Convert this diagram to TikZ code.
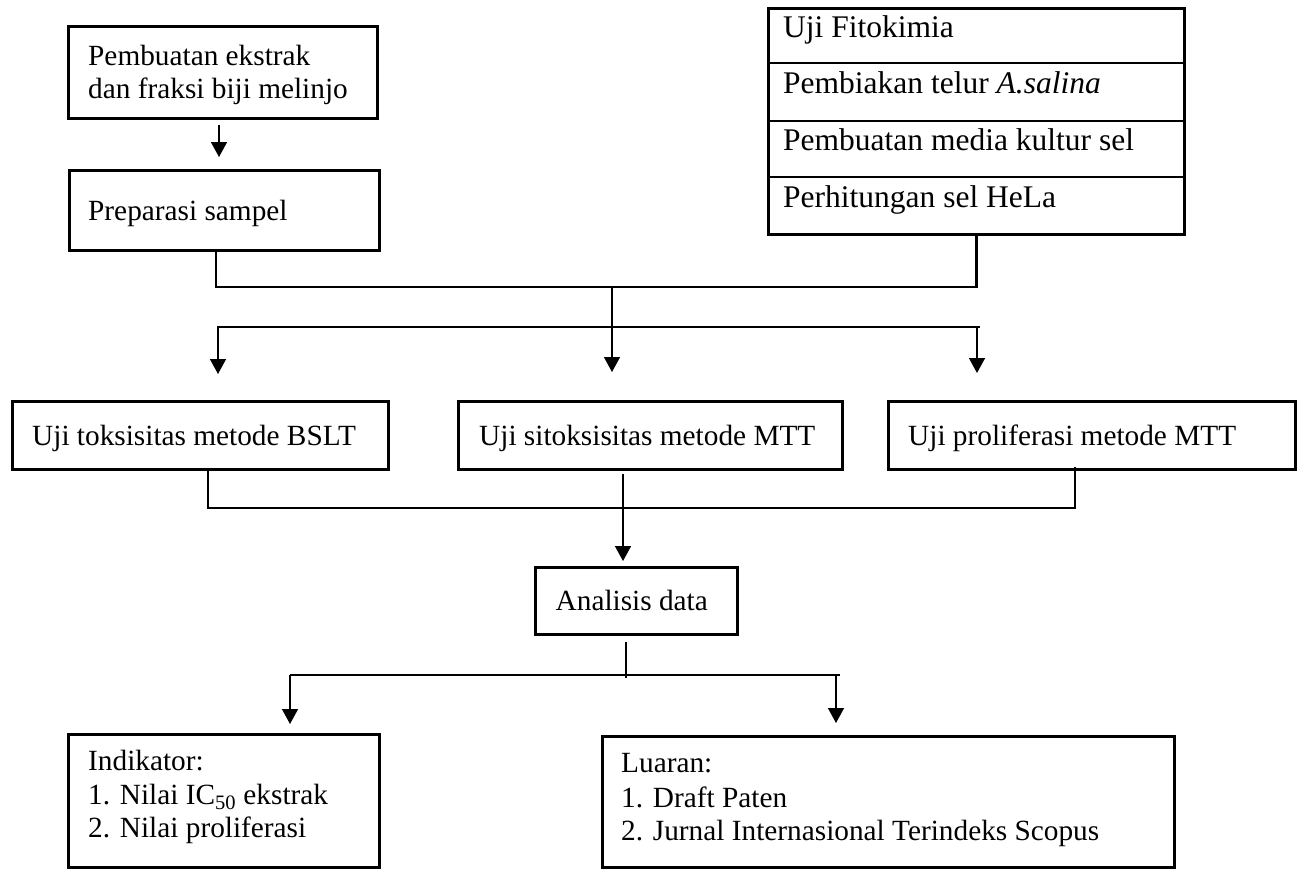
\documentclass[tikz,border=0pt]{standalone}
\usepackage{fontspec}
\setmainfont{Liberation Serif}
\usetikzlibrary{arrows.meta}
\begin{document}
\begin{tikzpicture}[x=1pt,y=-1pt,
  box/.style={draw=black,line width=2.6pt,inner sep=0pt,anchor=north west},
  txt/.style={anchor=base west,inner sep=0pt,font=\fontsize{29.3}{33.5}\selectfont},
  stxt/.style={anchor=base west,inner sep=0pt,font=\fontsize{31.5}{35}\selectfont},
  conn/.style={line width=2.8pt,line cap=rect},
  thin/.style={line width=1.5pt},
  arr/.style={line width=1.5pt,-{Triangle[width=16pt,length=15pt]}}]
\useasboundingbox[fill=white] (0,0) rectangle (1303,868);
% boxes
\node[box,minimum width=309pt,minimum height=92pt] (b1) at (67,25) {};
\node[box,minimum width=310pt,minimum height=80pt] (b2) at (68,169) {};
\node[box,minimum width=416pt,minimum height=226pt] (stack) at (767,7) {};
\node[box,minimum width=376pt,minimum height=68pt] (t1) at (11,400) {};
\node[box,minimum width=384pt,minimum height=68pt] (t2) at (457,400) {};
\node[box,minimum width=407pt,minimum height=68pt] (t3) at (887,400) {};
\node[box,minimum width=202pt,minimum height=67pt] (an) at (534,566) {};
\node[box,minimum width=311pt,minimum height=133pt] (ind) at (67,733) {};
\node[box,minimum width=572pt,minimum height=131pt] (lu) at (601,735) {};
% stack dividers
\draw[line width=2.6pt] (stack.west |- 0,63) -- (stack.east |- 0,63);
\draw[line width=2.6pt] (stack.west |- 0,121) -- (stack.east |- 0,121);
\draw[line width=2.6pt] (stack.west |- 0,177) -- (stack.east |- 0,177);
% texts
\node[txt] (tb1a) at (88,65) {Pembuatan ekstrak};
\node[txt] (tb1b) at (88,98) {dan fraksi biji melinjo};
\node[txt] (tb2) at (88,220) {Preparasi sampel};
\node[stxt] (ts1) at (783,37) {Uji Fitokimia};
\node[stxt] (ts2) at (783,93) {Pembiakan telur \textit{A.salina}};
\node[stxt] (ts3) at (783,150) {Pembuatan media kultur sel};
\node[stxt] (ts4) at (783,207) {Perhitungan sel HeLa};
\node[txt] (tt1) at (32,445) {Uji toksisitas metode BSLT};
\node[txt] (tt2) at (479,445) {Uji sitoksisitas metode MTT};
\node[txt] (tt3) at (908,445) {Uji proliferasi metode MTT};
\node[txt] (tan) at (555.5,610) {Analisis data};
\node[txt] (ti1) at (88,770) {Indikator:};
\node[txt] (ti2) at (88,804) {1. Nilai IC\textsubscript{50} ekstrak};
\node[txt] (ti3) at (88,837) {2. Nilai proliferasi};
\node[txt] (tl1) at (621,772) {Luaran:};
\node[txt] (tl2) at (621,807) {1. Draft Paten};
\node[txt] (tl3) at (621,840) {2. Jurnal Internasional Terindeks Scopus};
% junction coordinates
\coordinate (j1) at (216,287);
\coordinate (j2) at (612,287);
\coordinate (j3) at (612,329);
\coordinate (h2l) at (218,327);
\coordinate (h2r) at (979,327);
\coordinate (j4) at (208,508);
\coordinate (j5) at (623,508);
\coordinate (j6) at (1075,508);
\coordinate (j7) at (626,675);
\coordinate (h3l) at (290,675);
\coordinate (h3r) at (840,675);
% connectors
\draw[arr,shorten <=5pt,shorten >=12pt] (b1.south -| 219,0) -- (b2.north -| 219,0);
\draw[conn] (b2.south -| j1) -- (j1) -- (j1 -| stack.south) -- (stack.south);
\draw[conn] (j2) -- (j3);
\draw[conn] (h2l) -- (h2r);
\draw[arr,shorten >=26pt] (h2l) -- (t1.north -| h2l);
\draw[arr,shorten >=28pt] (612,327) -- (t2.north -| j3);
\draw[arr,shorten >=27pt] (977,327) -- (t3.north -| 977,0);
\draw[conn] (t1.south -| j4) -- (j4) -- (j6) -- ([yshift=2pt]t3.south -| j6);
\draw[conn,shorten <=5pt] (t2.south -| j5) -- (j5);
\draw[arr,shorten >=5pt] (j5) -- (an.north -| j5);
\draw[line width=2.6pt,shorten <=6pt] (an.south -| j7) -- ([yshift=-3pt]j7);
\draw[thin] (h3l) -- (h3r);
\draw[arr,shorten >=9pt] (h3l) -- (ind.north -| h3l);
\draw[arr,shorten >=12pt] (836,675) -- (lu.north -| 836,0);
\end{tikzpicture}
\end{document}
